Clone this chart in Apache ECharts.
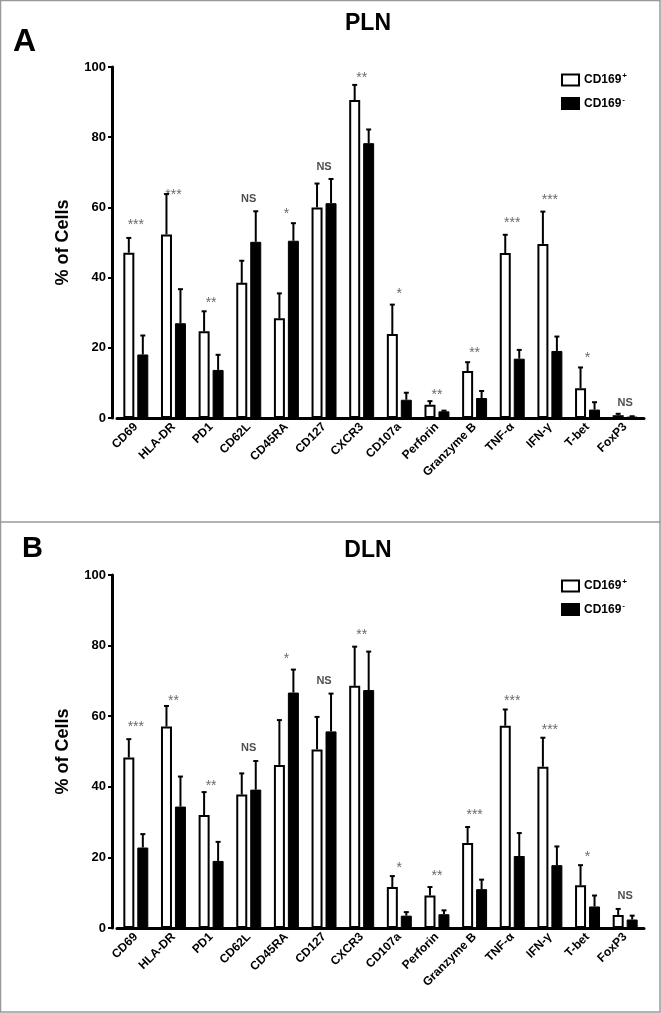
<!DOCTYPE html>
<html>
<head>
<meta charset="utf-8">
<script src="https://cdn.jsdelivr.net/npm/echarts@6/dist/echarts.min.js"></script>
<style>
  html, body { margin: 0; padding: 0; background: #fff; }
  #main { width: 661px; height: 1013px; }
</style>
</head>
<body>
<div id="main"></div>
<script>
var markers = ['CD69', 'HLA-DR', 'PD1', 'CD62L', 'CD45RA', 'CD127', 'CXCR3', 'CD107a',
  'Perforin', 'Granzyme B', 'TNF-α', 'IFN-γ', 'T-bet', 'FoxP3']

// PLN (panel A)
var plnPos = [47.1, 52.3, 24.7, 38.5, 28.4, 60.0, 90.6, 23.9, 3.8, 13.4, 47.0, 49.6, 8.5, 0.8]
var plnPosErr = [51.3, 63.8, 30.4, 44.8, 35.5, 66.8, 94.9, 32.3, 4.8, 15.9, 52.2, 58.8, 14.4, 1.2]
var plnNeg = [18.1, 27.0, 13.7, 50.2, 50.5, 61.2, 78.3, 5.2, 1.9, 5.7, 16.9, 19.1, 2.4, 0.4]
var plnNegErr = [23.5, 36.7, 18.0, 58.9, 55.5, 68.1, 82.2, 7.2, 2.1, 7.7, 19.4, 23.2, 4.5, 0.5]
var plnSig = ['***', '***', '**', 'NS', '*', 'NS', '**', '*', '**', '**', '***', '***', '*', 'NS']
var plnSigY = [56.2, 64.7, 33.9, 62.4, 59.2, 71.4, 98.1, 36.3, 7.7, 19.7, 56.6, 63.1, 18.3, 4.3]

// DLN (panel B)
var dlnPos = [48.3, 57.1, 32.0, 37.8, 46.2, 50.6, 68.6, 11.6, 9.2, 24.1, 57.3, 45.7, 12.1, 3.7]
var dlnPosErr = [53.5, 62.9, 38.5, 43.8, 58.9, 59.8, 79.7, 14.7, 11.6, 28.6, 61.9, 53.9, 17.8, 5.4]
var dlnNeg = [22.8, 34.4, 19.0, 39.2, 66.7, 55.7, 67.4, 3.5, 3.9, 11.0, 20.4, 17.8, 6.1, 2.4]
var dlnNegErr = [26.6, 42.9, 24.4, 47.3, 73.2, 66.4, 78.3, 4.5, 5.0, 13.7, 26.9, 23.1, 9.2, 3.5]
var dlnSig = ['***', '**', '**', 'NS', '*', 'NS', '**', '*', '**', '***', '***', '***', '*', 'NS']
var dlnSigY = [57.9, 65.5, 41.2, 50.9, 77.3, 69.9, 84.1, 18.0, 15.9, 33.2, 65.4, 57.3, 21.1, 9.0]

var FONT = '"Liberation Sans", Arial, sans-serif'

function errRender (shift) {
  return function (params, api) {
    var x = api.coord([api.value(0), 0])[0] + shift
    var lo = api.coord([api.value(0), api.value(1)])[1]
    var hi = api.coord([api.value(0), api.value(2)])[1]
    return {
      type: 'group',
      children: [
        { type: 'line', shape: { x1: x, y1: lo, x2: x, y2: hi }, style: { stroke: '#000', lineWidth: 2 } },
        { type: 'line', shape: { x1: x - 2.5, y1: hi, x2: x + 2.5, y2: hi }, style: { stroke: '#000', lineWidth: 2 } }
      ]
    }
  }
}

function errData (vals, errs) {
  return vals.map(function (v, i) { return [i, v, errs[i]] })
}

function sigData (ys, txt) {
  return ys.map(function (y, i) { return [i, y, txt[i]] })
}

function makeX (idx) {
  return {
    type: 'category',
    gridIndex: idx,
    data: markers,
    axisLine: { lineStyle: { color: '#000', width: 3 } },
    axisTick: { alignWithLabel: true, length: 4, lineStyle: { color: '#000', width: 3 } },
    axisLabel: {
      interval: 0, rotate: 45, margin: 7,
      color: '#000', fontFamily: FONT, fontWeight: 'bold', fontSize: 12
    },
    splitLine: { show: false }
  }
}

function makeY (idx) {
  return {
    type: 'value',
    gridIndex: idx,
    min: 0, max: 100, interval: 20,
    offset: 5,
    name: '% of Cells',
    nameLocation: 'middle',
    nameGap: 40,
    nameTextStyle: { color: '#000', fontFamily: FONT, fontWeight: 'bold', fontSize: 18 },
    axisLine: { show: true, lineStyle: { color: '#000', width: 3 } },
    axisTick: { show: true, length: 4, lineStyle: { color: '#000', width: 2 } },
    axisLabel: { color: '#000', fontFamily: FONT, fontWeight: 'bold', fontSize: 13, margin: 6 },
    splitLine: { show: false }
  }
}

var posStyle = { color: '#fff', borderColor: '#000', borderWidth: 2 }
var negStyle = { color: '#000', borderColor: '#000', borderWidth: 1 }

function panelSeries (idx, pos, posErr, neg, negErr, sig, sigY) {
  return [
    { name: 'CD169+', type: 'bar', xAxisIndex: idx, yAxisIndex: idx, data: pos,
      barWidth: 11, barGap: '27%', itemStyle: posStyle, silent: true },
    { name: 'CD169-', type: 'bar', xAxisIndex: idx, yAxisIndex: idx, data: neg,
      barWidth: 11, barGap: '27%', itemStyle: negStyle, silent: true },
    { type: 'custom', xAxisIndex: idx, yAxisIndex: idx, renderItem: errRender(-7),
      data: errData(pos, posErr), z: 3, silent: true },
    { type: 'custom', xAxisIndex: idx, yAxisIndex: idx, renderItem: errRender(7),
      data: errData(neg, negErr), z: 3, silent: true },
    { type: 'scatter', xAxisIndex: idx, yAxisIndex: idx, symbolSize: 0, silent: true,
      data: sigData(sigY, sig),
      label: {
        show: true, position: 'inside',
        formatter: function (p) {
          return p.value[2] === 'NS' ? '{n|NS}' : '{s|' + p.value[2] + '}'
        },
        rich: {
          n: { fontFamily: FONT, fontWeight: 'bold', fontSize: 11, color: '#222' },
          s: { fontFamily: FONT, fontSize: 14, color: '#444', padding: [8, 0, 0, 0] }
        }
      } }
  ]
}

function makeLegend (top) {
  return {
    orient: 'vertical',
    left: 561,
    top: top,
    padding: 0,
    itemWidth: 17,
    itemHeight: 11,
    itemGap: 9,
    data: ['CD169+', 'CD169-'],
    selectedMode: false,
    icon: 'rect',
    formatter: function (name) {
      return '{b|CD169}{s|' + (name === 'CD169+' ? '+' : '-') + '}'
    },
    textStyle: {
      rich: {
        b: { fontFamily: FONT, fontWeight: 'bold', fontSize: 12, color: '#000' },
        s: { fontFamily: FONT, fontWeight: 'bold', fontSize: 8, color: '#000', verticalAlign: 'bottom', padding: [0, 0, 8, 1] }
      }
    }
  }
}

var chart = echarts.init(document.getElementById('main'))
chart.setOption({
  backgroundColor: '#fff',
  animation: false,
  grid: [
    { left: 117, width: 527, top: 67, height: 351 },
    { left: 117, width: 527, top: 575, height: 353 }
  ],
  legend: [makeLegend(72), makeLegend(578)],
  xAxis: [makeX(0), makeX(1)],
  yAxis: [makeY(0), makeY(1)],
  series: panelSeries(0, plnPos, plnPosErr, plnNeg, plnNegErr, plnSig, plnSigY)
    .concat(panelSeries(1, dlnPos, dlnPosErr, dlnNeg, dlnNegErr, dlnSig, dlnSigY)),
  graphic: [
    { type: 'rect', shape: { x: 0.5, y: 0.5, width: 659.5, height: 1011.5 },
      style: { fill: 'none', stroke: '#999', lineWidth: 1.5 }, silent: true },
    { type: 'line', shape: { x1: 0, y1: 522, x2: 661, y2: 522 },
      style: { stroke: '#999', lineWidth: 1.5 }, silent: true },
    { type: 'text', left: 13, top: 26,
      style: { text: 'A', font: 'bold 32px ' + FONT, fill: '#000' } },
    { type: 'text', left: 22, top: 534,
      style: { text: 'B', font: 'bold 29px ' + FONT, fill: '#000' } },
    { type: 'text', x: 368, y: 24,
      style: { text: 'PLN', font: 'bold 23px ' + FONT, fill: '#000', align: 'center', verticalAlign: 'middle' } },
    { type: 'text', x: 368, y: 551,
      style: { text: 'DLN', font: 'bold 23px ' + FONT, fill: '#000', align: 'center', verticalAlign: 'middle' } }
  ]
})
</script>
</body>
</html>
